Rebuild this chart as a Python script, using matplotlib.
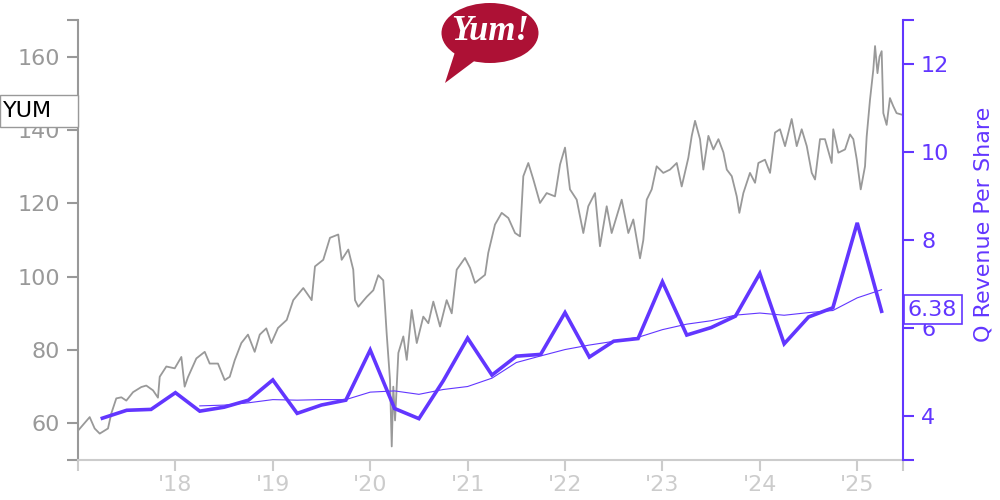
import matplotlib
matplotlib.use("Agg")
import matplotlib.pyplot as plt
from matplotlib.patches import Ellipse, Polygon, Rectangle
from matplotlib.transforms import blended_transform_factory
import numpy as np
import pandas as pd

# YUM daily close (decimal year, price)
price_t = [2017.000, 2017.120, 2017.171, 2017.223, 2017.308, 2017.342, 2017.393, 2017.445,
           2017.496, 2017.565, 2017.650, 2017.701, 2017.770, 2017.821, 2017.839, 2017.907,
           2017.993, 2018.061, 2018.095, 2018.129, 2018.215, 2018.301, 2018.352, 2018.437,
           2018.506, 2018.558, 2018.609, 2018.677, 2018.745, 2018.814, 2018.866, 2018.933,
           2018.985, 2019.053, 2019.143, 2019.210, 2019.313, 2019.399, 2019.433, 2019.518,
           2019.587, 2019.672, 2019.707, 2019.775, 2019.826, 2019.844, 2019.878, 2019.964,
           2020.032, 2020.083, 2020.134, 2020.152, 2020.169, 2020.203, 2020.221, 2020.237,
           2020.255, 2020.289, 2020.340, 2020.375, 2020.426, 2020.478, 2020.545, 2020.597,
           2020.648, 2020.717, 2020.785, 2020.837, 2020.888, 2020.973, 2021.025, 2021.076,
           2021.179, 2021.212, 2021.281, 2021.350, 2021.418, 2021.487, 2021.538, 2021.572,
           2021.623, 2021.675, 2021.743, 2021.812, 2021.897, 2021.949, 2022.000, 2022.051,
           2022.120, 2022.188, 2022.239, 2022.308, 2022.359, 2022.428, 2022.479, 2022.582,
           2022.650, 2022.701, 2022.770, 2022.804, 2022.839, 2022.890, 2022.941, 2023.009,
           2023.078, 2023.147, 2023.198, 2023.266, 2023.301, 2023.335, 2023.386, 2023.420,
           2023.472, 2023.523, 2023.575, 2023.626, 2023.661, 2023.712, 2023.763, 2023.790,
           2023.831, 2023.899, 2023.951, 2023.985, 2024.053, 2024.105, 2024.156, 2024.207,
           2024.259, 2024.327, 2024.379, 2024.430, 2024.482, 2024.533, 2024.567, 2024.618,
           2024.669, 2024.738, 2024.754, 2024.806, 2024.875, 2024.926, 2024.960, 2024.995,
           2025.036, 2025.080, 2025.097, 2025.131, 2025.165, 2025.183, 2025.208, 2025.229,
           2025.251, 2025.268, 2025.302, 2025.336, 2025.370, 2025.404, 2025.456]
price = [58.0, 61.7, 58.6, 57.2, 58.6, 62.7, 66.8, 67.1,
         66.2, 68.5, 69.9, 70.3, 69.0, 67.0, 72.7, 75.5,
         75.0, 78.1, 70.0, 72.6, 77.7, 79.5, 76.3, 76.3,
         71.8, 72.7, 77.2, 81.9, 84.2, 79.5, 84.2, 85.9,
         81.9, 86.0, 88.2, 93.6, 96.9, 93.6, 102.8, 104.6,
         110.6, 111.5, 104.6, 107.4, 101.9, 93.6, 91.8, 94.5,
         96.3, 100.4, 99.0, 91.8, 84.5, 71.9, 53.7, 70.0,
         60.8, 79.2, 83.7, 77.3, 90.9, 81.9, 89.1, 87.3,
         93.2, 86.4, 93.6, 90.0, 101.9, 105.1, 102.4, 98.3,
         100.5, 106.5, 114.2, 117.4, 116.0, 111.9, 111.0, 127.4,
         131.0, 126.5, 120.1, 122.8, 121.9, 130.6, 135.2, 123.8,
         121.0, 111.9, 119.2, 122.8, 108.3, 119.2, 111.9, 121.0,
         111.9, 115.6, 105.0, 110.0, 121.0, 123.8, 130.1, 128.3,
         129.2, 131.0, 124.6, 132.4, 138.4, 142.5, 137.5, 129.2,
         138.4, 134.7, 137.5, 133.9, 129.2, 127.4, 121.9, 117.4,
         122.8, 128.3, 125.6, 131.0, 131.9, 128.3, 139.3, 140.2,
         135.6, 143.0, 135.6, 140.2, 135.6, 128.3, 126.5, 137.5,
         137.5, 131.0, 140.2, 133.8, 134.7, 138.8, 137.5, 132.0,
         123.8, 130.1, 138.2, 148.2, 156.4, 162.9, 155.5, 160.0,
         161.5, 144.6, 141.4, 148.7, 146.5, 144.6, 144.2]

# quarterly revenue per share
quarters = ['2017Q1', '2017Q2', '2017Q3', '2017Q4',
            '2018Q1', '2018Q2', '2018Q3', '2018Q4',
            '2019Q1', '2019Q2', '2019Q3', '2019Q4',
            '2020Q1', '2020Q2', '2020Q3', '2020Q4',
            '2021Q1', '2021Q2', '2021Q3', '2021Q4',
            '2022Q1', '2022Q2', '2022Q3', '2022Q4',
            '2023Q1', '2023Q2', '2023Q3', '2023Q4',
            '2024Q1', '2024Q2', '2024Q3', '2024Q4',
            '2025Q1']
rev_ps = [3.95, 4.13, 4.15, 4.53,
          4.11, 4.20, 4.36, 4.82,
          4.06, 4.25, 4.36, 5.50,
          4.17, 3.94, 4.80, 5.77,
          4.93, 5.36, 5.40, 6.35,
          5.34, 5.70, 5.76, 7.05,
          5.84, 6.01, 6.27, 7.24,
          5.64, 6.25, 6.46, 8.39,
          6.38]

year_ticks = [2018, 2019, 2020, 2021, 2022, 2023, 2024, 2025]
year_labels = ["'18", "'19", "'20", "'21", "'22", "'23", "'24", "'25"]

ticker = 'YUM'
GRAY = '#999999'
LIGHT = '#cccccc'
PURPLE = '#6236ff'
XMIN, XMAX = 2017.0, 2025.47

q_x = [int(q[:4]) + int(q[-1]) / 4 for q in quarters]
rev_roll = pd.Series(rev_ps).rolling(4).mean()

fig = plt.figure(figsize=(10, 5), dpi=100)
ax = fig.add_axes([0.078, 0.08, 0.825, 0.88])
ax2 = ax.twinx()

ax.plot(price_t, price, color=GRAY, lw=1.3)
ax2.plot(q_x, rev_ps, color=PURPLE, lw=2.6, solid_joinstyle='miter')
ax2.plot(q_x[4:], rev_roll[4:], color=PURPLE, lw=0.8)

ax.set_xlim(XMIN, XMAX)
ax.set_ylim(50, 170)
ax2.set_ylim(3, 13)

for s in ['top', 'right']:
    ax.spines[s].set_visible(False)
for s in ['top', 'left', 'bottom']:
    ax2.spines[s].set_visible(False)
ax.spines['left'].set_color(GRAY)
ax.spines['left'].set_linewidth(1.5)
ax.spines['bottom'].set_color(LIGHT)
ax.spines['bottom'].set_linewidth(1.5)
ax2.spines['right'].set_color(PURPLE)
ax2.spines['right'].set_linewidth(1.5)

ax.set_yticks([50, 60, 80, 100, 120, 140, 160, 170])
ax.set_yticklabels(['', '60', '80', '100', '120', '140', '160', ''])
ax.tick_params(axis='y', colors=GRAY, labelsize=16, length=8, width=1.5, pad=5)

ax.set_xticks([XMIN] + year_ticks + [XMAX])
ax.set_xticklabels([''] + year_labels + [''])
ax.tick_params(axis='x', colors=LIGHT, labelsize=16, length=8, width=1.5, pad=3)

ax2.set_yticks([3, 4, 6, 8, 10, 12, 13])
ax2.set_yticklabels(['', '4', '6', '8', '10', '12', ''])
ax2.tick_params(axis='y', colors=PURPLE, labelsize=16, length=8, width=1.5, pad=5)
ax2.set_ylabel('Q Revenue Per Share', color=PURPLE, fontsize=16)
ax2.yaxis.set_label_coords(1.085, 0.536)

# last-value tags
tr = blended_transform_factory(ax.transAxes, ax.transData)
box_h = 32 / 3.66
ax.add_patch(Rectangle((-78 / 825, price[-1] + 1 - box_h / 2), 78 / 825, box_h, transform=tr,
                       facecolor='white', edgecolor=GRAY, lw=1, clip_on=False, zorder=5))
ax.text(-75 / 825, price[-1] + 1, ticker, transform=tr, ha='left', va='center',
        fontsize=16, color='black', clip_on=False, zorder=6)

tr2 = blended_transform_factory(ax2.transAxes, ax2.transData)
ax2.text(1.006, rev_ps[-1] + 0.04, f'{rev_ps[-1]:.2f}', transform=tr2, ha='left', va='center',
         fontsize=16, color=PURPLE, clip_on=False, zorder=6,
         bbox=dict(boxstyle='square,pad=0.2', facecolor='white', edgecolor=PURPLE, lw=1.2))

# logo bubble
lax = fig.add_axes([0, 0, 1, 1])
lax.set_xlim(0, 1000)
lax.set_ylim(500, 0)
lax.axis('off')
RED = '#ad1135'
lax.add_patch(Ellipse((490, 33), 97, 60, facecolor=RED, edgecolor='none'))
lax.add_patch(Polygon([(455, 52), (445, 83), (481, 56)], closed=True, facecolor=RED, edgecolor='none'))
lax.text(490.5, 32, 'Yum!', ha='center', va='center', color='white', fontsize=25,
         family='Liberation Serif', weight='bold', style='italic')

fig.savefig('out.png', dpi=100)
